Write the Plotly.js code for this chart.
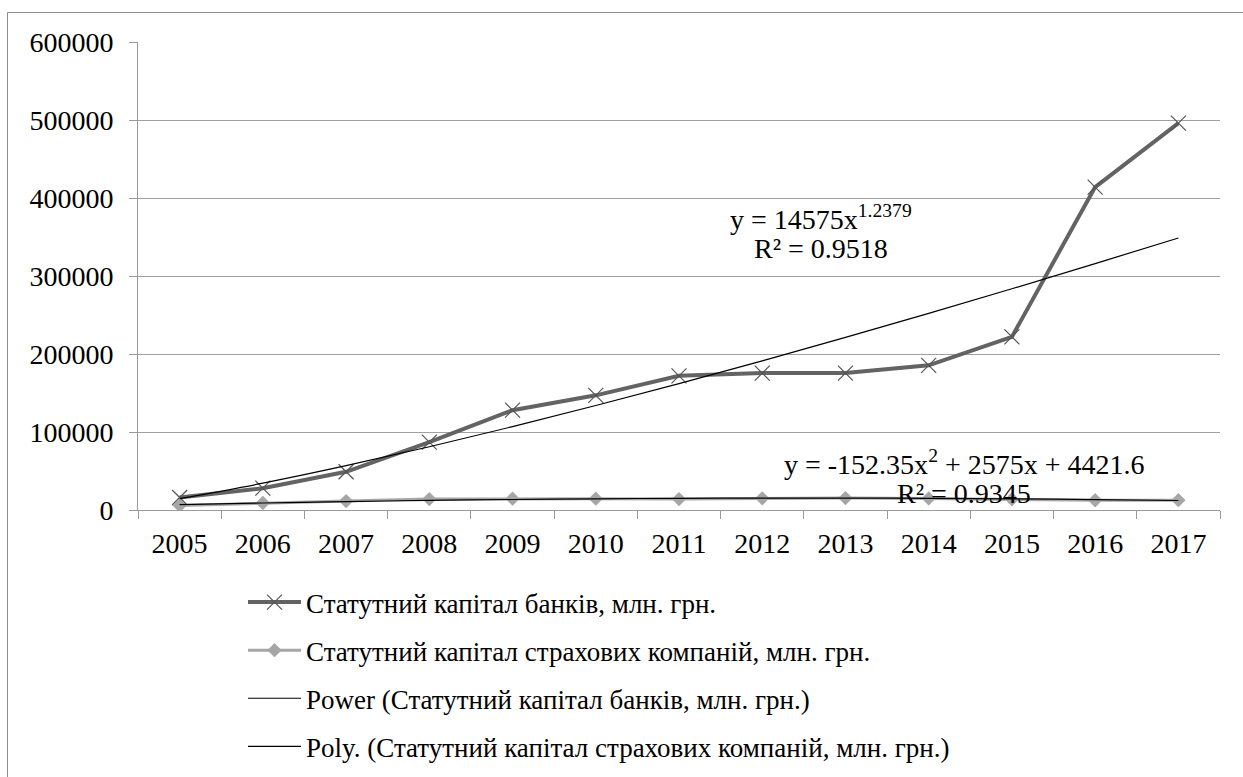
<!DOCTYPE html>
<html>
<head>
<meta charset="utf-8">
<script src="https://cdn.plot.ly/plotly-3.0.1.min.js"></script>
<style>
  html, body { margin: 0; padding: 0; background: #ffffff; }
  #chart { width: 1243px; height: 777px; }
</style>
</head>
<body>
<div id="chart"></div>
<script>
// ---- data ----
const years = ["2005","2006","2007","2008","2009","2010","2011","2012","2013","2014","2015","2016","2017"];
const banks = [16000, 28000, 49000, 87000, 128000, 147000, 172000, 175500, 175500, 185500, 222000, 414000, 496000];
const insurance = [5800, 9000, 11500, 14000, 14500, 14500, 14000, 15000, 15300, 14800, 13800, 12500, 12600];
const seriesNames = [
  "Статутний капітал банків, млн. грн.",
  "Статутний капітал страхових компаній, млн. грн.",
  "Power (Статутний капітал банків, млн. грн.)",
  "Poly. (Статутний капітал страхових компаній, млн. грн.)"
];
// trendline coefficients printed on the chart
const powerCoef = [14575, 1.2379];           // y = a * x^b
const polyCoef = [-152.35, 2575, 4421.6];    // y = c2 x^2 + c1 x + c0
const powerLabel = ["y = 14575x<sup>1.2379</sup>", "R² = 0.9518"];
const polyLabel = ["y = -152.35x<sup>2</sup> + 2575x + 4421.6", "R² = 0.9345"];

// trendline values at the category index (1..n)
const idx = years.map((_, i) => i + 1);
const powerTrend = idx.map(x => powerCoef[0] * Math.pow(x, powerCoef[1]));
const polyTrend = idx.map(x => polyCoef[0] * x * x + polyCoef[1] * x + polyCoef[2]);

// ---- layout helpers ----
const L = 138, R = 23, T = 42, B = 267;
const PW = 1243 - L - R, PH = 777 - T - B;
const px2x = p => (p - L) / PW;
const px2y = p => 1 - (p - T) / PH;
const FONT = "Liberation Serif";

const traces = [
  { x: years, y: banks, name: seriesNames[0], type: "scatter", mode: "lines+markers",
    line: { color: "#636363", width: 4 },
    marker: { symbol: "x-thin", size: 15, color: "#555555", line: { color: "#555555", width: 1.2 } },
    legendgroup: "a" },
  { x: years, y: insurance, name: seriesNames[1], type: "scatter", mode: "lines+markers",
    line: { color: "#a6a6a6", width: 3 },
    marker: { symbol: "diamond", size: 11, color: "#a6a6a6" },
    legendgroup: "b" },
  { x: years, y: powerTrend, name: seriesNames[2], type: "scatter", mode: "lines",
    line: { color: "#000000", width: 1.2, shape: "spline" }, legendgroup: "c" },
  { x: years, y: polyTrend, name: seriesNames[3], type: "scatter", mode: "lines",
    line: { color: "#000000", width: 1.2, shape: "spline" }, legendgroup: "d" }
];

const annFont = { family: FONT, size: 28, color: "#000000" };
const layout = {
  width: 1243, height: 777,
  margin: { l: L, r: R, t: T, b: B, pad: 0, autoexpand: false },
  paper_bgcolor: "#ffffff", plot_bgcolor: "#ffffff",
  font: { family: FONT, size: 27, color: "#000000" },
  showlegend: true,
  legend: {
    x: px2x(243), xanchor: "left", y: px2y(578), yanchor: "top", orientation: "v",
    font: { family: FONT, size: 27, color: "#000000" },
    itemwidth: 53, tracegroupgap: 10, bgcolor: "rgba(0,0,0,0)", traceorder: "grouped"
  },
  xaxis: { type: "category", range: [-0.5, 12.5], showline: true, linecolor: "#9a9a9a", linewidth: 1,
    ticks: "outside", tickson: "boundaries", ticklen: 8, tickcolor: "#9a9a9a", tickwidth: 1,
    showgrid: false, zeroline: false, tickfont: { family: FONT, size: 28, color: "#000000" },
    ticklabelstandoff: 8, fixedrange: true },
  yaxis: { range: [0, 600000], dtick: 100000, tick0: 0, tickformat: "d",
    showline: true, linecolor: "#9a9a9a", linewidth: 1,
    ticks: "outside", ticklen: 8, tickcolor: "#9a9a9a", tickwidth: 1,
    showgrid: true, gridcolor: "#a0a0a0", gridwidth: 1,
    zeroline: false, tickfont: { family: FONT, size: 28, color: "#000000" },
    ticklabelstandoff: 10, fixedrange: true },
  shapes: [
    { type: "line", xref: "paper", yref: "paper", x0: px2x(7.5), x1: px2x(1260), y0: px2y(12.5), y1: px2y(12.5), line: { color: "#8c8c8c", width: 1 } },
    { type: "line", xref: "paper", yref: "paper", x0: px2x(7.5), x1: px2x(7.5), y0: px2y(12.5), y1: px2y(800), line: { color: "#8c8c8c", width: 1 } }
  ],
  annotations: [
    { xref: "paper", yref: "paper", x: px2x(821), y: px2y(217), xanchor: "center", yanchor: "middle", text: powerLabel[0], showarrow: false, font: annFont },
    { xref: "paper", yref: "paper", x: px2x(821), y: px2y(248), xanchor: "center", yanchor: "middle", text: powerLabel[1], showarrow: false, font: annFont },
    { xref: "paper", yref: "paper", x: px2x(964), y: px2y(462), xanchor: "center", yanchor: "middle", text: polyLabel[0], showarrow: false, font: annFont },
    { xref: "paper", yref: "paper", x: px2x(964), y: px2y(493), xanchor: "center", yanchor: "middle", text: polyLabel[1], showarrow: false, font: annFont }
  ]
};

Plotly.newPlot("chart", traces, layout, { displayModeBar: false, staticPlot: true });
</script>
</body>
</html>
